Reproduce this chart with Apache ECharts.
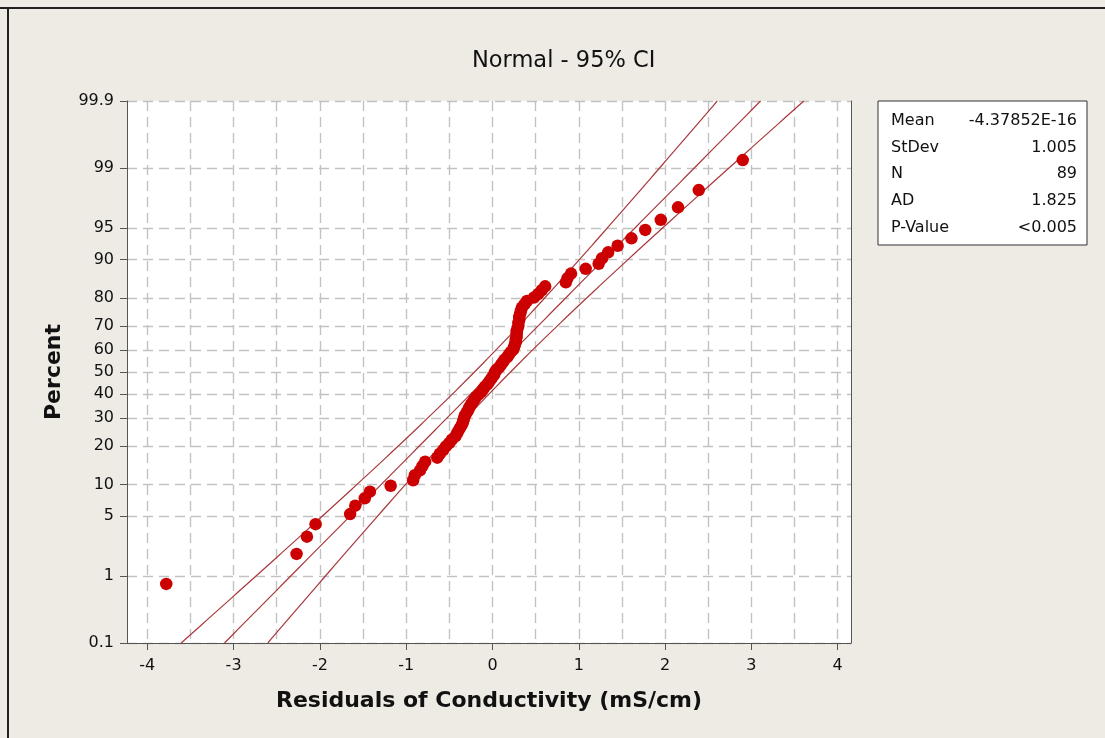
<!DOCTYPE html>
<html>
<head>
<meta charset="utf-8">
<title>Normal - 95% CI</title>
<script src="https://cdn.jsdelivr.net/npm/echarts@6/dist/echarts.min.js"></script>
<style>
  html, body { margin: 0; padding: 0; background: #EEEAE4; }
  #chart { width: 1105px; height: 738px; }
</style>
</head>
<body>
<div id="chart"></div>
<script>
// Residuals of conductivity (mS/cm), sorted ascending, 89 observations
const residuals = [
  -3.78, -2.27, -2.15, -2.05, -1.65, -1.59, -1.48, -1.42, -1.18, -0.92,
  -0.90, -0.84, -0.81, -0.78, -0.64, -0.61, -0.57, -0.54, -0.50, -0.47,
  -0.43, -0.41, -0.39, -0.37, -0.35, -0.34, -0.33, -0.32, -0.30, -0.28,
  -0.27, -0.25, -0.23, -0.21, -0.19, -0.16, -0.13, -0.11, -0.09, -0.06,
  -0.04, -0.02, 0.00, 0.02, 0.03, 0.05, 0.08, 0.10, 0.12, 0.14,
  0.17, 0.19, 0.21, 0.24, 0.25, 0.26, 0.27, 0.27, 0.28, 0.28,
  0.28, 0.29, 0.30, 0.30, 0.31, 0.31, 0.32, 0.33, 0.34, 0.37,
  0.40, 0.48, 0.53, 0.57, 0.61, 0.85, 0.87, 0.91, 1.08, 1.23,
  1.27, 1.34, 1.45, 1.61, 1.77, 1.95, 2.15, 2.39, 2.90
];

// Probability-scale tick labels (percent)
const percentTicks = [0.1, 1, 5, 10, 20, 30, 40, 50, 60, 70, 80, 90, 95, 99, 99.9];
// Residual axis labels and grid steps
const xTicks = [-4, -3, -2, -1, 0, 1, 2, 3, 4];
const xGridSteps = [-4, -3.5, -3, -2.5, -2, -1.5, -1, -0.5, 0, 0.5, 1, 1.5, 2, 2.5, 3, 3.5, 4];

// Summary statistics of the normal fit
const statLabels = ['Mean', 'StDev', 'N', 'AD', 'P-Value'];
const statValues = ['-4.37852E-16', '1.005', '89', '1.825', '<0.005'];
const fitMean = -4.37852e-16;
const fitSd = 1.005;
const fitN = 89;

const FONT = 'DejaVu Sans';

// Inverse standard normal CDF (Acklam's rational approximation)
function normInv(p) {
  const a = [-3.969683028665376e+01, 2.209460984245205e+02, -2.759285104469687e+02,
             1.383577518672690e+02, -3.066479806614716e+01, 2.506628277459239e+00];
  const b = [-5.447609879822406e+01, 1.615858368580409e+02, -1.556989798598866e+02,
             6.680131188771972e+01, -1.328068155288572e+01];
  const c = [-7.784894002430293e-03, -3.223964580411365e-01, -2.400758277161838e+00,
             -2.549732539343734e+00, 4.374664141464968e+00, 2.938163982698783e+00];
  const d = [7.784695709041462e-03, 3.224671290700398e-01, 2.445134137142996e+00,
             3.754408661907416e+00];
  const pl = 0.02425, ph = 1 - pl;
  let q, r;
  if (p < pl) {
    q = Math.sqrt(-2 * Math.log(p));
    return (((((c[0]*q+c[1])*q+c[2])*q+c[3])*q+c[4])*q+c[5]) /
           ((((d[0]*q+d[1])*q+d[2])*q+d[3])*q+1);
  }
  if (p <= ph) {
    q = p - 0.5; r = q * q;
    return (((((a[0]*r+a[1])*r+a[2])*r+a[3])*r+a[4])*r+a[5])*q /
           (((((b[0]*r+b[1])*r+b[2])*r+b[3])*r+b[4])*r+1);
  }
  q = Math.sqrt(-2 * Math.log(1 - p));
  return -(((((c[0]*q+c[1])*q+c[2])*q+c[3])*q+c[4])*q+c[5]) /
          ((((d[0]*q+d[1])*q+d[2])*q+d[3])*q+1);
}

// The percent axis is linear in normal scores
const zTicks = percentTicks.map(p => normInv(p / 100));
const zMin = zTicks[0];
const zMax = zTicks[zTicks.length - 1];

function percentLabel(z) {
  let best = 0, bestD = Infinity;
  zTicks.forEach((t, i) => {
    const dd = Math.abs(t - z);
    if (dd < bestD) { bestD = dd; best = i; }
  });
  return String(percentTicks[best]);
}

// Median-rank plotting positions
const n = residuals.length;
const points = residuals.map((x, i) => [x, normInv((i + 1 - 0.3) / (n + 0.4))]);

// Fitted line and 95% confidence band
const fitLine = [], lowerBand = [], upperBand = [];
const steps = 120;
for (let k = 0; k <= steps; k++) {
  const z = zMin + (zMax - zMin) * k / steps;
  const x = fitMean + z * fitSd;
  const h = 1.96 * fitSd * Math.sqrt(1 / fitN + z * z / (2 * fitN));
  fitLine.push([x, z]);
  lowerBand.push([x - h, z]);
  upperBand.push([x + h, z]);
}

const xMin = -4.235, xMax = 4.154;
const gridColor = '#C2C2C2';
const axisColor = '#555';
const lineColor = '#A8383C';

const chart = echarts.init(document.getElementById('chart'), null, { renderer: 'canvas' });

const statGraphics = [];
statLabels.forEach((lab, i) => {
  statGraphics.push({
    type: 'text', left: 891, top: 113 + i * 26.6,
    style: { text: lab, font: '16px "' + FONT + '"', fill: '#111' }
  });
  statGraphics.push({
    type: 'text', right: 1105 - 1077, top: 113 + i * 26.6,
    style: { text: statValues[i], font: '16px "' + FONT + '"', fill: '#111', textAlign: 'right' }
  });
});

chart.setOption({
  backgroundColor: '#EEEAE4',
  animation: false,
  title: {
    text: 'Normal - 95% CI',
    left: 467, top: 45,
    textStyle: { fontFamily: FONT, fontSize: 22.5, fontWeight: 'normal', color: '#111' }
  },
  grid: {
    left: 127, top: 101, width: 724, height: 542,
    show: true, backgroundColor: '#fff', borderWidth: 0,
    containLabel: false
  },
  xAxis: [
    {
      type: 'value', min: xMin, max: xMax, position: 'bottom',
      name: 'Residuals of Conductivity (mS/cm)',
      nameLocation: 'middle', nameGap: 47,
      nameTextStyle: { fontFamily: FONT, fontSize: 22, fontWeight: 'bold', color: '#111' },
      axisLine: { show: true, onZero: false, lineStyle: { color: axisColor, width: 1 } },
      axisTick: { show: true, customValues: xTicks, length: 7, lineStyle: { color: axisColor } },
      axisLabel: {
        customValues: xTicks, margin: 15,
        fontFamily: FONT, fontSize: 16, color: '#111',
        formatter: v => String(Math.round(v))
      },
      splitLine: { show: false }
    },
    {
      type: 'value', min: xMin, max: xMax, position: 'top',
      axisLine: { show: false },
      axisTick: { show: false, customValues: xGridSteps },
      axisLabel: { show: false, customValues: xGridSteps },
      splitLine: { show: true, lineStyle: { color: gridColor, width: 1.4, type: [10, 6] } }
    }
  ],
  yAxis: [
    {
      type: 'value', min: zMin, max: zMax, position: 'left',
      name: 'Percent', nameLocation: 'middle', nameGap: 62, nameRotate: 90,
      nameTextStyle: { fontFamily: FONT, fontSize: 22, fontWeight: 'bold', color: '#111' },
      axisLine: { show: true, onZero: false, lineStyle: { color: axisColor, width: 1 } },
      axisTick: { show: true, customValues: zTicks, length: 7, lineStyle: { color: axisColor } },
      axisLabel: {
        customValues: zTicks, margin: 13,
        fontFamily: FONT, fontSize: 16, color: '#111',
        formatter: percentLabel
      },
      splitLine: { show: true, lineStyle: { color: gridColor, width: 1.4, type: [10, 6] } }
    },
    {
      type: 'value', min: zMin, max: zMax, position: 'right',
      axisLine: { show: true, onZero: false, lineStyle: { color: axisColor, width: 1 } },
      axisTick: { show: false },
      axisLabel: { show: false },
      splitLine: { show: false }
    }
  ],
  series: [
    {
      name: 'Lower 95% CI', type: 'line', data: lowerBand, showSymbol: false, symbol: 'none',
      lineStyle: { color: lineColor, width: 1.2 }, clip: true, silent: true, z: 2
    },
    {
      name: 'Fit', type: 'line', data: fitLine, showSymbol: false, symbol: 'none',
      lineStyle: { color: lineColor, width: 1.2 }, clip: true, silent: true, z: 2
    },
    {
      name: 'Upper 95% CI', type: 'line', data: upperBand, showSymbol: false, symbol: 'none',
      lineStyle: { color: lineColor, width: 1.2 }, clip: true, silent: true, z: 2
    },
    {
      name: 'Residuals', type: 'scatter', data: points, symbol: 'circle', symbolSize: 12.5,
      itemStyle: { color: '#CC0000', opacity: 1 }, z: 3
    }
  ],
  graphic: [
    { type: 'line', shape: { x1: 0, y1: 8, x2: 1105, y2: 8 }, style: { stroke: '#222', lineWidth: 2 } },
    { type: 'line', shape: { x1: 8, y1: 8, x2: 8, y2: 738 }, style: { stroke: '#222', lineWidth: 2 } },
    {
      type: 'rect', shape: { x: 878, y: 101, width: 209, height: 144 },
      style: { fill: '#fff', stroke: '#333', lineWidth: 1 }
    }
  ].concat(statGraphics)
});
</script>
</body>
</html>
